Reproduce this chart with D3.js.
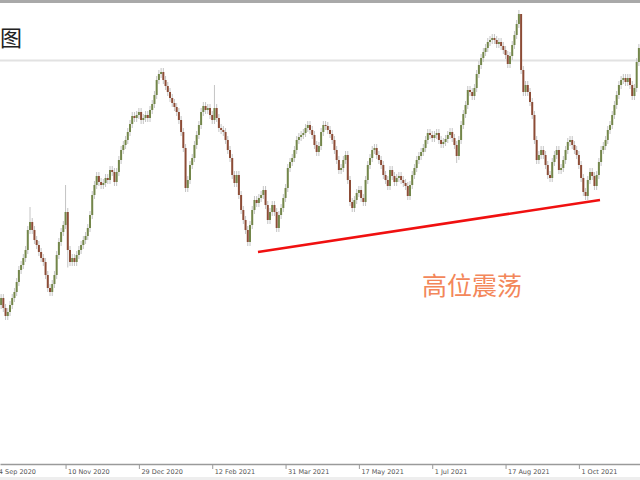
<!DOCTYPE html>
<html><head><meta charset="utf-8">
<script src="https://cdn.jsdelivr.net/npm/d3@7"></script>
<style>html,body{margin:0;padding:0;background:#fff;overflow:hidden}</style>
</head><body>
<svg id="c" width="640" height="480"></svg>
<script>
// Daily closes (arbitrary price units), one per trading day
const closes = [
36.4,34.4,32.8,33.6,35,36.4,37.6,39.6,42,
43,44.4,46,50,51.6,50,48,47,45.6,
44.4,43.6,41,38.4,37.6,39.2,41,45,47.6,
49.6,51,53.6,46,43.6,44.4,43.6,45,46,
47,48,48.8,50.4,53,57,59,60.8,59.6,
59,59.4,60.4,60,62,61.6,59.6,61.6,64,
66,67,68,69.6,71.2,72.8,72.4,73,73.6,
72,72.4,73,72.4,74,75.2,77,80,81.2,
81.6,80,78.8,77.6,76.4,75.4,74.6,73.6,72,
69.6,66.4,58.4,60,63,64.4,67,69,71,
73.6,74.8,74,74.4,73,72,74.4,72.4,70.4,
70,69.6,68,66,64.4,61,59.4,61,57,
54,52,50,47.6,51,54,56,55.4,56.4,
57,58,55,52,53.6,55,53.6,50.4,53,
54.4,56.4,58.4,62.4,63.6,64.4,66,68,68.6,
69,69.4,70.4,71,70,69,67,65.6,66.8,
69.6,71,70.8,70,69.2,68,66,64,62,
62.4,64,65,60,55.6,54.4,56,57.4,58,
56.4,55.6,60,63,64.4,66,66.4,65,64,
63,61,60,58.8,62,60.8,59.6,60.4,60.8,
60,59.4,58.8,56.8,59,61,62.4,64,64.8,
65.6,66.4,68,69.4,69,68.4,69,69.4,68,
67.2,67.6,68.2,69,69.6,68.4,67,64.8,68,
71,73.2,75,78,77.6,76.8,78.4,81.2,83,
84.4,85.6,86.4,87.6,88,88.4,88,87.2,87.6,
86.8,86,85,83.2,84.8,87,89,91.2,93.2,
82,77.6,79,77.6,75.6,73,68,64,65,
66,65,63,61,60.4,63.6,65,66,62,
62.4,64,66,67.6,68,67,66,65,63,
60.4,57.6,56.8,60,61.6,60.8,58.8,61,63.6,
66,66.8,68,70,71,73,75,77,79,
80,80.4,79.6,80.4,79,76.8,78.4,83.6,86.4
];
const firstOpen = 35;
// notable wick extremes: bar index -> high / low
const spikeHighs = [{bar:13, high:54.6},{bar:29, high:59},{bar:96, high:79},{bar:234, high:83.4}];
const spikeLows = [{bar:205, low:63.4},{bar:30, low:42.5}];

const tickBars = [-4, 29, 62, 95, 128, 161, 194, 227, 260];
const tickLabels = ["24 Sep 2020","10 Nov 2020","29 Dec 2020","12 Feb 2021","31 Mar 2021","17 May 2021","1 Jul 2021","17 Aug 2021","1 Oct 2021"];

// support trend line (bar index, price)
const trendBars = [115.6, 269.5];
const trendPrices = [45.6, 56];

const titleText = "图";
const noteText = "高位震荡";

const svg = d3.select("#c");
const W = 640, H = 480;
const N = closes.length;
const x = d3.scaleLinear().domain([-0.5, N - 0.5]).range([0, W]);
const y = d3.scaleLinear().domain([0, 96]).range([H, 0]);

const hiMap = new Map(spikeHighs.map(d => [d.bar, d.high]));
const loMap = new Map(spikeLows.map(d => [d.bar, d.low]));
const wick = 0.8;
const bars = closes.map((c, i) => {
  const o = i === 0 ? firstOpen : closes[i - 1];
  return {i, o, c,
    h: hiMap.has(i) ? hiMap.get(i) : Math.max(o, c) + wick,
    l: loMap.has(i) ? loMap.get(i) : Math.min(o, c) - wick};
});

// frame elements
svg.append("rect").attr("x",0).attr("y",0).attr("width",W).attr("height",3).attr("fill","#a9a9a9");
svg.append("line").attr("x1",0).attr("x2",W).attr("y1",60.5).attr("y2",60.5).attr("stroke","#e2e2e2").attr("stroke-width",2);
svg.append("text").attr("x",0).attr("y",46).attr("font-family","Noto Sans CJK SC").attr("font-size",22).attr("fill","#222").text(titleText);

// candles
const g = svg.append("g");
const bw = 2;
g.selectAll("line.w").data(bars).join("line").attr("class","w")
  .attr("x1", d => x(d.i)).attr("x2", d => x(d.i))
  .attr("y1", d => y(d.h)).attr("y2", d => y(d.l))
  .attr("stroke", "#c4c4c4").attr("stroke-width", 1);
g.selectAll("rect.b").data(bars).join("rect").attr("class","b")
  .attr("x", d => x(d.i) - bw / 2).attr("width", bw)
  .attr("y", d => y(Math.max(d.o, d.c)))
  .attr("height", d => Math.max(1, Math.abs(y(d.o) - y(d.c))))
  .attr("fill", d => d.c >= d.o ? "#73864a" : "#8c4c36");

// trend line
svg.append("line")
  .attr("x1", x(trendBars[0])).attr("y1", y(trendPrices[0]))
  .attr("x2", x(trendBars[1])).attr("y2", y(trendPrices[1]))
  .attr("stroke", "#f01010").attr("stroke-width", 2.6);

svg.append("text").attr("x", 422).attr("y", 295)
  .attr("font-family","Noto Sans CJK SC").attr("font-size",25)
  .attr("fill","#f3875a").text(noteText);

// bottom axis
svg.append("rect").attr("x",0).attr("y",477).attr("width",W).attr("height",3).attr("fill","#eeeeee");
const axis = d3.axisBottom(x).tickValues(tickBars).tickFormat((d, i) => tickLabels[i]).tickSizeInner(5).tickSizeOuter(0);
const ag = svg.append("g").attr("transform","translate(0,464)").call(axis);
ag.select(".domain").attr("stroke","#9a9a9a").attr("stroke-width",1.5);
ag.selectAll(".tick line").attr("stroke","#9a9a9a");
ag.selectAll(".tick text").attr("text-anchor","start").attr("x",2).attr("y",5)
  .attr("font-family","DejaVu Sans").attr("font-size",6.5).attr("fill","#555");
</script>
</body></html>
